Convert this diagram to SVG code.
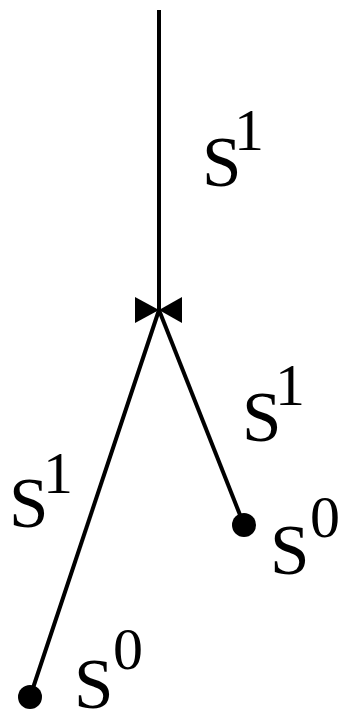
<svg xmlns="http://www.w3.org/2000/svg" width="344" height="711" viewBox="0 0 344 711">
<style>
.s{font-family:"Liberation Serif","Times New Roman",serif;font-size:71px;fill:#000}
.d{font-family:"Liberation Serif","Times New Roman",serif;font-size:60px;fill:#000}
.e{stroke:#000;stroke-width:4;fill:none}
</style>
<rect width="344" height="711" fill="#fff"/>
<g id="connectors">
<line class="e" x1="159" y1="10" x2="159" y2="310"/>
<line class="e" x1="159" y1="310" x2="30" y2="697"/>
<line class="e" x1="159" y1="310" x2="244" y2="525"/>
</g>
<g id="junction">
<polygon points="135,297 135,323 159,310" fill="#000"/>
<polygon points="182,297 182,323 159,310" fill="#000"/>
</g>
<g id="leafRight"><circle cx="244" cy="525" r="12" fill="#000"/></g>
<g id="leafLeft"><circle cx="30" cy="697" r="12" fill="#000"/></g>
<g id="labels">
<text class="s" x="202" y="186">S</text><text class="d" x="234" y="150">1</text>
<text class="s" x="242" y="441">S</text><text class="d" x="275" y="405">1</text>
<text class="s" x="9" y="527">S</text><text class="d" x="43" y="493">1</text>
<text class="s" x="270" y="574">S</text><text class="d" x="310" y="537">0</text>
<text class="s" x="74" y="708">S</text><text class="d" x="113" y="669">0</text>
</g>
</svg>
